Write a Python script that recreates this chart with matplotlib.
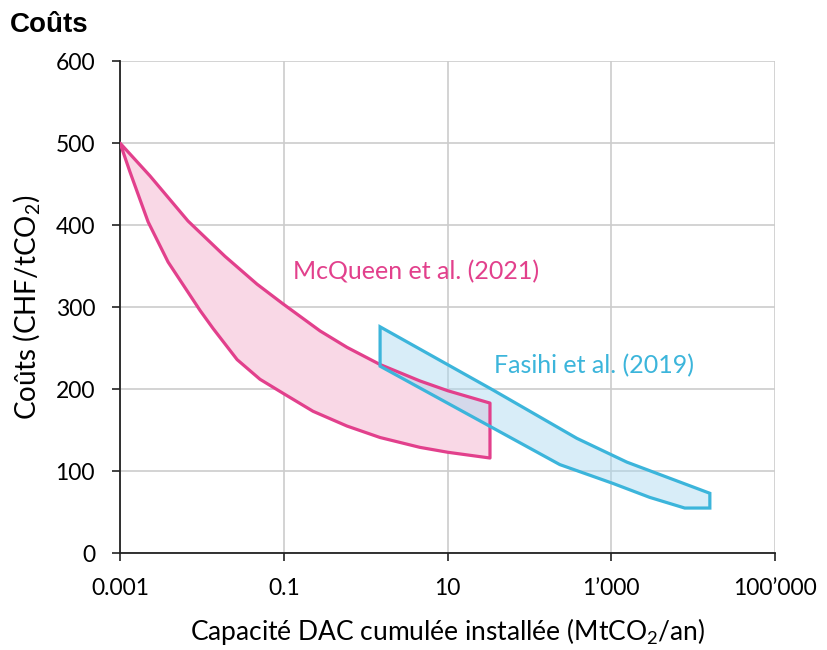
import numpy as np
import matplotlib
matplotlib.use("Agg")
import matplotlib.pyplot as plt
from matplotlib.ticker import FixedLocator, NullLocator

plt.rcParams['mathtext.default'] = 'regular'

# McQueen et al. (2021) - upper and lower bounds
mcq_up_x = [0.001, 0.00232, 0.00676, 0.0191, 0.0471, 0.0977, 0.277, 0.591, 1.5, 4.6, 10.1, 33]
mcq_up_y = [500, 460, 405, 362, 328, 304, 271, 251, 230, 210, 198, 183]
mcq_lo_x = [0.001, 0.00132, 0.0022, 0.00386, 0.00948, 0.01367, 0.0269, 0.0512, 0.0977,
            0.2275, 0.591, 1.5, 4.6, 10.1, 33]
mcq_lo_y = [500, 465, 404, 355, 296, 274, 236, 212, 195, 173, 155, 141, 129, 123, 116]

# Fasihi et al. (2019)
fas_up_x = [1.5, 35.8, 380, 1550, 16000]
fas_up_y = [276, 199, 140, 111, 73]
fas_lo_x = [1.5, 235, 1050, 2950, 7900, 16000]
fas_lo_y = [228, 108, 85, 68, 55, 55]

xticks = [0.001, 0.1, 10, 1000, 100000]
xlabels = ["0.001", "0.1", "10", "1\u2019000", "100\u2019000"]
yticks = [0, 100, 200, 300, 400, 500, 600]

pink = "#E2408C"
pink_fill = "#F9D8E6"
blue = "#3CB5DB"

fig = plt.figure(figsize=(8.28, 6.5), dpi=100)
ax = fig.add_axes([0.145, 0.149, 0.791, 0.757])

mx = mcq_up_x + mcq_lo_x[::-1]
my = mcq_up_y + mcq_lo_y[::-1]
fx = fas_up_x + fas_lo_x[::-1]
fy = fas_up_y + fas_lo_y[::-1]

ax.fill(mx, my, facecolor=pink_fill, edgecolor="none", zorder=3)
ax.fill(fx, fy, facecolor="#A9D9F1", alpha=0.45, edgecolor="none", zorder=4)
ax.fill(mx, my, facecolor="none", edgecolor=pink, linewidth=2.3, joinstyle="round", zorder=5)
ax.fill(fx, fy, facecolor="none", edgecolor=blue, linewidth=2.3, joinstyle="miter", zorder=6)

ax.set_xscale("log")
ax.set_xlim(0.001, 100000)
ax.set_ylim(0, 600)
ax.xaxis.set_major_locator(FixedLocator(xticks))
ax.xaxis.set_minor_locator(NullLocator())
ax.set_xticks(xticks)
ax.set_xticklabels(xlabels, fontsize=16.5, family="Lato")
ax.set_yticks(yticks)
ax.set_yticklabels([str(v) for v in yticks], fontsize=16.5, family="Lato")
ax.tick_params(axis="both", length=6, width=1.2, color="#222222")
ax.tick_params(axis="y", pad=12)
ax.tick_params(axis="x", pad=12)

ax.grid(True, color="#CCCCCC", linewidth=1.2, zorder=0)
ax.set_axisbelow(True)
for s in ["top", "right"]:
    ax.spines[s].set_visible(False)
for s in ["left", "bottom"]:
    ax.spines[s].set_linewidth(1.3)
    ax.spines[s].set_color("#222222")

ax.set_xlabel("Capacité DAC cumulée installée (MtCO$_2$/an)", fontsize=19, family="Lato", labelpad=12)
ax.set_ylabel("Coûts (CHF/tCO$_2$)", fontsize=20, family="Lato", labelpad=10)

ax.text(0.13, 343, "McQueen et al. (2021)", color=pink, fontsize=18, family="Lato", va="center", zorder=7)
ax.text(37, 229, "Fasihi et al. (2019)", color=blue, fontsize=18, family="Lato", va="center", zorder=7)

fig.text(0.012, 0.962, "Coûts", fontsize=20, fontweight="bold", family="Liberation Sans", va="center")

fig.savefig("out.png", dpi=100)
